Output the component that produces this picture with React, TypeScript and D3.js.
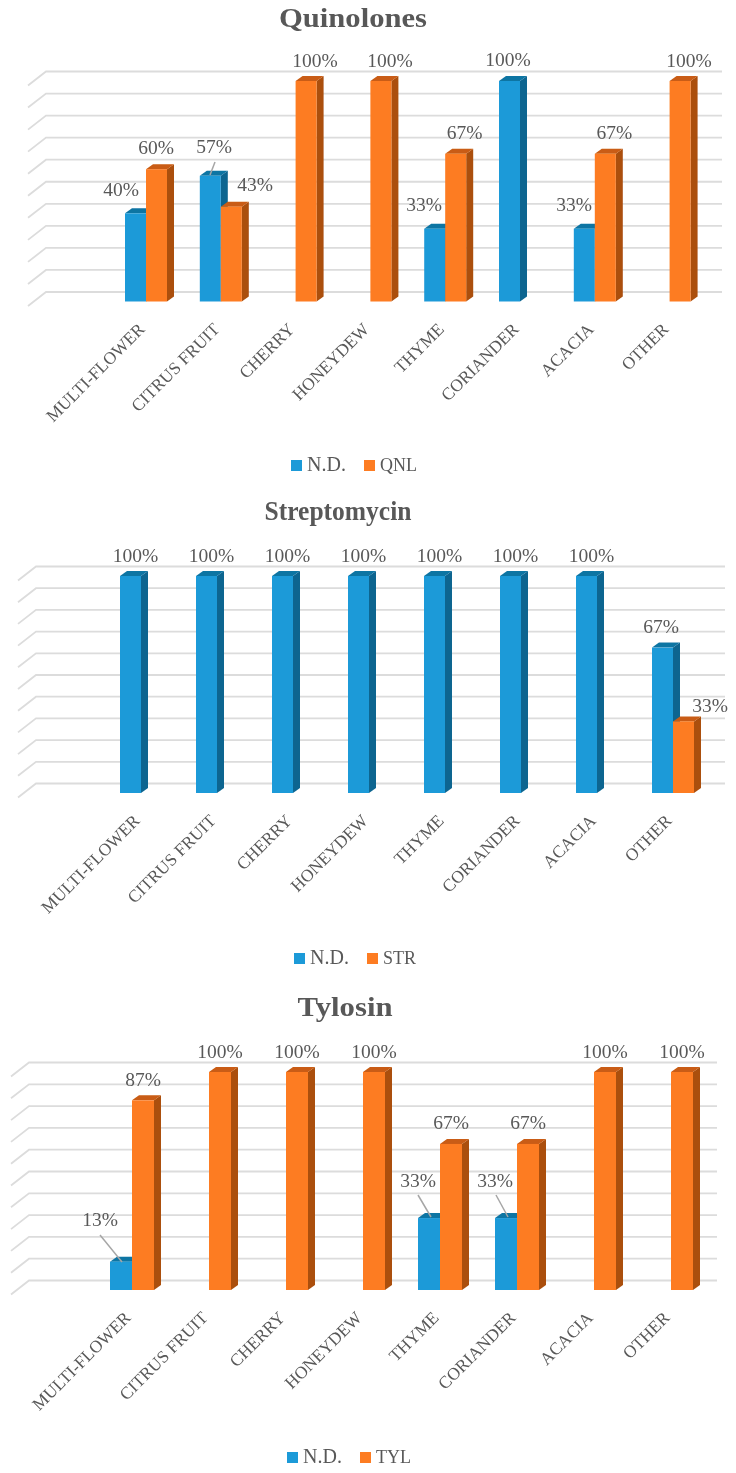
import React from "react";
import * as d3 from "d3";

const categoriesA = ["MULTI-FLOWER", "CITRUS FRUIT", "CHERRY", "HONEYDEW", "THYME", "CORIANDER", "ACACIA", "OTHER"];
const quinolonesND = [40, 57, 0, 0, 33, 100, 33, 0];
const quinolonesQNL = [60, 43, 100, 100, 67, 0, 67, 100];
const streptomycinND = [100, 100, 100, 100, 100, 100, 100, 67];
const streptomycinSTR = [0, 0, 0, 0, 0, 0, 0, 33];
const tylosinND = [13, 0, 0, 0, 33, 33, 0, 0];
const tylosinTYL = [87, 100, 100, 100, 67, 67, 100, 100];
const yTicks = d3.range(0, 101, 10);

const BLUE = { front: "#1f9ad8", side: "#0b6590", top: "#0e74a3" };
const ORANGE = { front: "#fd7b20", side: "#ab4f0e", top: "#c95c12" };
const TEXT = "#595959";
const FONT = "'Liberation Serif', serif";
const DX = 7;
const DY = 5;

type Override = { key: string; x: number; y: number; leader?: number[] };
type Cfg = {
  title: string; titleX: number; titleY: number; titleLen: number;
  nd: number[]; other: number[]; otherName: string;
  x0: number; step: number; barW: number; base: number; top: number;
  gridL: number; gridR: number;
  legendX: number; legendY: number; otherLegX: number;
  labelDx: number; overrides: Override[];
};

const charts: Cfg[] = [
  {
    title: "Quinolones", titleX: 353, titleY: 27, titleLen: 148,
    nd: quinolonesND, other: quinolonesQNL, otherName: "QNL",
    x0: 125, step: 74.8, barW: 21, base: 301.5, top: 81, gridL: 46, gridR: 722,
    legendX: 291, legendY: 465, otherLegX: 364, labelDx: 9,
    overrides: [
      { key: "0-0", x: 121, y: 196 },
      { key: "0-1", x: 156, y: 154 },
      { key: "1-0", x: 214, y: 153, leader: [215, 162, 210, 175] },
      { key: "1-1", x: 255, y: 191 },
      { key: "4-0", x: 424, y: 211 },
      { key: "5-0", x: 508, y: 66 },
      { key: "6-0", x: 574, y: 211 },
    ],
  },
  {
    title: "Streptomycin", titleX: 338, titleY: 520, titleLen: 147,
    nd: streptomycinND, other: streptomycinSTR, otherName: "STR",
    x0: 120, step: 76, barW: 21, base: 793, top: 576, gridL: 36, gridR: 725,
    legendX: 294, legendY: 958, otherLegX: 367, labelDx: 5,
    overrides: [
      { key: "7-1", x: 710, y: 712 },
      { key: "7-0", x: 661, y: 633 },
    ],
  },
  {
    title: "Tylosin", titleX: 345, titleY: 1016, titleLen: 95,
    nd: tylosinND, other: tylosinTYL, otherName: "TYL",
    x0: 110, step: 77, barW: 22, base: 1290, top: 1072, gridL: 29, gridR: 717,
    legendX: 287, legendY: 1457, otherLegX: 360, labelDx: 0,
    overrides: [
      { key: "0-0", x: 100, y: 1226, leader: [100, 1235, 122, 1262] },
      { key: "4-0", x: 418, y: 1187, leader: [418, 1195, 431, 1217] },
      { key: "5-0", x: 495, y: 1187, leader: [496, 1195, 508, 1217] },
    ],
  },
];

function Chart({ c }: { c: Cfg }) {
  const x = d3.scalePoint<string>().domain(categoriesA).range([c.x0, c.x0 + 7 * c.step]);
  const s = d3.scaleBand<string>().domain(["nd", "other"]).range([0, 2 * c.barW]);
  const y = d3.scaleLinear().domain([0, 100]).range([c.base, c.top]);
  const series = [
    { id: "nd", values: c.nd, color: BLUE },
    { id: "other", values: c.other, color: ORANGE },
  ];
  const line = d3.line();
  return (
    <g fontFamily={FONT} filter="url(#soft)">
      <text x={c.titleX} y={c.titleY} textAnchor="middle" fontSize={27} fontWeight="bold" fill={TEXT}
        textLength={c.titleLen} lengthAdjust="spacingAndGlyphs">{c.title}</text>
      {yTicks.map((t) => (
        <path key={t} fill="none" stroke="#dcdcdc" strokeWidth={1.8}
          d={line([[c.gridL - 18, y(t) + 4.5], [c.gridL, y(t) - 9.5], [c.gridR, y(t) - 9.5]]) as string} />
      ))}
      {categoriesA.map((cat, i) => (
        <g key={cat}>
          {series.map((se) => {
            const v = se.values[i];
            if (!v) return null;
            const l = (x(cat) as number) + (s(se.id) as number);
            const r = l + c.barW;
            const t = y(v);
            const b = c.base;
            return (
              <g key={se.id}>
                <path fill={se.color.side} d={line([[r, t], [r + DX, t - DY], [r + DX, b - DY], [r, b]]) + "Z"} />
                <path fill={se.color.top} d={line([[l, t], [l + DX, t - DY], [r + DX, t - DY], [r, t]]) + "Z"} />
                <rect x={l} y={t} width={c.barW} height={b - t} fill={se.color.front} />
              </g>
            );
          })}
        </g>
      ))}
      {categoriesA.map((cat, i) =>
        series.map((se, si) => {
          const v = se.values[i];
          if (!v) return null;
          const o = c.overrides.find((d) => d.key === `${i}-${si}`);
          const l = (x(cat) as number) + (s(se.id) as number);
          const px = o ? o.x : l + c.barW / 2 + c.labelDx;
          const py = o ? o.y : y(v) - 14.5;
          return (
            <g key={cat + se.id}>
              {o && o.leader && (
                <line x1={o.leader[0]} y1={o.leader[1]} x2={o.leader[2]} y2={o.leader[3]} stroke="#a6a6a6" strokeWidth={1.5} />
              )}
              <text x={px} y={py} textAnchor="middle" fontSize={19.5} fill={TEXT}>{v}%</text>
            </g>
          );
        })
      )}
      {categoriesA.map((cat) => {
        const cx = (x(cat) as number) + c.barW;
        const cy = c.base + 26;
        return (
          <text key={cat} transform={`translate(${cx - 3},${cy}) rotate(-45)`} textAnchor="end" dominantBaseline="middle"
            fontSize={17.4} fill={TEXT}>{cat}</text>
        );
      })}
      <rect x={c.legendX} y={c.legendY - 5} width={11} height={11} fill={BLUE.front} />
      <text x={c.legendX + 16} y={c.legendY + 6} fontSize={20} fill={TEXT}>N.D.</text>
      <rect x={c.otherLegX} y={c.legendY - 5} width={11} height={11} fill={ORANGE.front} />
      <text x={c.otherLegX + 16} y={c.legendY + 6} fontSize={18} fill={TEXT}>{c.otherName}</text>
    </g>
  );
}

export default function App() {
  return (
    <svg width={736} height={1473} style={{ position: "absolute", left: 0, top: 0, background: "#fff" }}>
      <defs>
        <filter id="soft" x="0" y="0" width="736" height="1473" filterUnits="userSpaceOnUse">
          <feGaussianBlur stdDeviation="0.35" />
        </filter>
      </defs>
      {charts.map((c) => <Chart key={c.title} c={c} />)}
    </svg>
  );
}
